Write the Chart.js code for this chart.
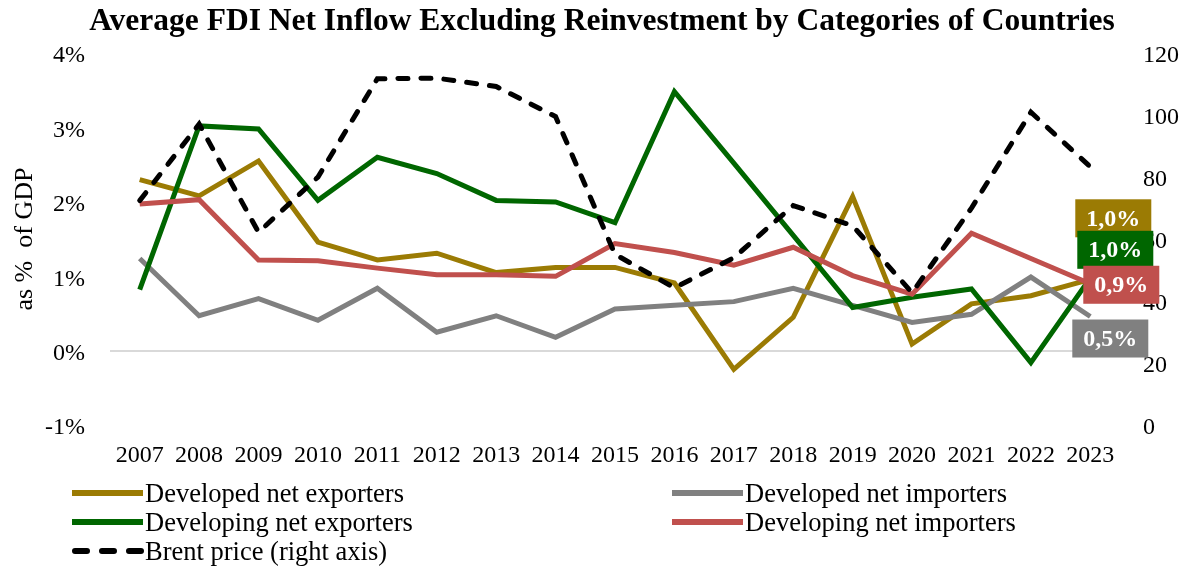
<!DOCTYPE html>
<html>
<head>
<meta charset="utf-8">
<script src="https://cdn.jsdelivr.net/npm/chart.js@4.4.1/dist/chart.umd.min.js"></script>
<style>
  body { margin: 0; background: #fff; }
</style>
</head>
<body>
<canvas id="fdiChart" width="1187" height="566"></canvas>
<script>
// FDI net inflow (% of GDP) by country group, with Brent price on the right axis
const years = ["2007", "2008", "2009", "2010", "2011", "2012", "2013", "2014", "2015",
    "2016", "2017", "2018", "2019", "2020", "2021", "2022", "2023"];

const developedExporters = [2.30, 2.08, 2.55, 1.46, 1.22, 1.31, 1.05, 1.12, 1.12,
    0.91, -0.25, 0.45, 2.07, 0.09, 0.63, 0.74, 0.96];
const developedImporters = [1.24, 0.47, 0.70, 0.41, 0.84, 0.25, 0.47, 0.18, 0.56,
    0.61, 0.66, 0.84, 0.61, 0.38, 0.49, 0.99, 0.46];
const developingExporters = [0.82, 3.02, 2.98, 2.02, 2.60, 2.38, 2.02, 2.00, 1.72,
    3.48, 2.52, 1.55, 0.58, 0.72, 0.83, -0.16, 0.98];
const developingImporters = [1.97, 2.03, 1.22, 1.21, 1.11, 1.02, 1.02, 1.00, 1.44,
    1.32, 1.15, 1.39, 1.01, 0.76, 1.58, 1.24, 0.90];
const brentPrice = [72.4, 97.1, 62.2, 80.0, 111.7, 111.9, 109.2, 99.5, 55.1,
    44.3, 54.0, 70.8, 64.3, 42.7, 70.0, 100.9, 83.3];

const leftTicks = [-1, 0, 1, 2, 3, 4];
const rightTicks = [0, 20, 40, 60, 80, 100, 120];

const chartTitle = "Average FDI Net Inflow Excluding Reinvestment by Categories of Countries";

const serif = "'Liberation Serif', 'Times New Roman', serif";

// where the 2023 value boxes sit, relative to the last point
const endLabelOffsets = [
    { dx: 23, dy: -61 },
    { dx: 20, dy: 22 },
    { dx: 25, dy: -28 },
    { dx: 31, dy: 1 },
    null,
];

const endLabels = {
    id: "endLabels",
    afterDatasetsDraw(chart) {
        const ctx = chart.ctx;
        ctx.save();
        ctx.font = "bold 24px " + serif;
        ctx.textAlign = "center";
        ctx.textBaseline = "middle";
        chart.data.datasets.forEach((ds, i) => {
            const off = endLabelOffsets[i];
            if (!off) return;
            const meta = chart.getDatasetMeta(i);
            const pt = meta.data[meta.data.length - 1];
            const v = ds.data[ds.data.length - 1];
            const text = v.toFixed(1).replace(".", ",") + "%";
            const w = ctx.measureText(text).width + 22;
            const h = 38;
            const cx = pt.x + off.dx;
            const cy = pt.y + off.dy;
            ctx.fillStyle = ds.borderColor;
            ctx.fillRect(cx - w / 2, cy - h / 2, w, h);
            ctx.fillStyle = "#ffffff";
            ctx.fillText(text, cx, cy + 1);
        });
        ctx.restore();
    },
};

// title sits a little right of the canvas centre
const topTitle = {
    id: "topTitle",
    afterDraw(chart) {
        const ctx = chart.ctx;
        ctx.save();
        ctx.font = "bold 31.5px " + serif;
        ctx.fillStyle = "#000";
        ctx.textAlign = "center";
        ctx.textBaseline = "middle";
        ctx.fillText(chartTitle, 602, 22);
        ctx.restore();
    },
};

// two-column legend under the plot
const gridLegend = {
    id: "gridLegend",
    afterDraw(chart) {
        const ctx = chart.ctx;
        const colX = [72, 672];
        const rowY = [493, 522, 551];
        ctx.save();
        ctx.font = "26.5px " + serif;
        ctx.textBaseline = "middle";
        ctx.fillStyle = "#000";
        chart.data.datasets.forEach((ds, i) => {
            const x = colX[i % 2];
            const y = rowY[Math.floor(i / 2)];
            ctx.beginPath();
            ctx.strokeStyle = ds.borderColor;
            ctx.lineWidth = 6;
            if (ds.borderDash) {
                ctx.setLineDash([12, 15]);
                ctx.lineCap = "round";
                ctx.moveTo(x + 3, y);
            } else {
                ctx.setLineDash([]);
                ctx.lineCap = "butt";
                ctx.moveTo(x, y);
            }
            ctx.lineTo(x + 71, y);
            ctx.stroke();
            ctx.fillText(ds.label, x + 73, y + 2);
        });
        ctx.restore();
    },
};

const line = (label, data, color, order, extra) => Object.assign({
    label: label,
    data: data,
    borderColor: color,
    backgroundColor: color,
    borderWidth: 5,
    pointRadius: 0,
    tension: 0,
    yAxisID: "y",
    order: order,
}, extra || {});

new Chart(document.getElementById("fdiChart").getContext("2d"), {
    type: "line",
    data: {
        labels: years,
        datasets: [
            line("Developed net exporters", developedExporters, "#9b7b04", 5),
            line("Developed net importers", developedImporters, "#808080", 4),
            line("Developing net exporters", developingExporters, "#006600", 3),
            line("Developing net importers", developingImporters, "#c0504d", 2),
            line("Brent price (right axis)", brentPrice, "#000000", 1, {
                yAxisID: "y2",
                borderDash: [10, 13],
                borderCapStyle: "round",
            }),
        ],
    },
    options: {
        responsive: false,
        animation: false,
        layout: {
            padding: { left: 0, right: 0, top: 53, bottom: 80 },
        },
        scales: {
            x: {
                offset: true,
                grid: { display: false, drawTicks: false },
                border: { display: false },
                ticks: {
                    color: "#000",
                    font: { family: serif, size: 24 },
                    padding: 16,
                    maxRotation: 0,
                    autoSkip: false,
                },
            },
            y: {
                position: "left",
                min: leftTicks[0],
                max: leftTicks[leftTicks.length - 1],
                afterBuildTicks: (axis) => {
                    axis.ticks = leftTicks.map((v) => ({ value: v }));
                },
                afterFit: (axis) => {
                    axis.width = 110;
                },
                grid: {
                    drawTicks: false,
                    lineWidth: 2,
                    color: (c) => (c.tick && c.tick.value === 0 ? "#d9d9d9" : "rgba(0,0,0,0)"),
                },
                border: { display: false },
                ticks: {
                    color: "#000",
                    font: { family: serif, size: 24 },
                    padding: 25,
                    labelOffset: 3,
                    callback: (v) => v + "%",
                },
                title: {
                    display: true,
                    text: "as %  of GDP",
                    color: "#000",
                    font: { family: serif, size: 26 },
                    padding: { top: 10, bottom: 0 },
                },
            },
            y2: {
                position: "right",
                min: rightTicks[0],
                max: rightTicks[rightTicks.length - 1],
                afterBuildTicks: (axis) => {
                    axis.ticks = rightTicks.map((v) => ({ value: v }));
                },
                afterFit: (axis) => {
                    axis.width = 67;
                },
                grid: { display: false, drawTicks: false },
                border: { display: false },
                ticks: {
                    color: "#000",
                    font: { family: serif, size: 24 },
                    padding: 23,
                    labelOffset: 3,
                },
            },
        },
        plugins: {
            legend: { display: false },
            tooltip: { enabled: false },
            title: { display: false },
        },
    },
    plugins: [endLabels, topTitle, gridLegend],
});
</script>
</body>
</html>
